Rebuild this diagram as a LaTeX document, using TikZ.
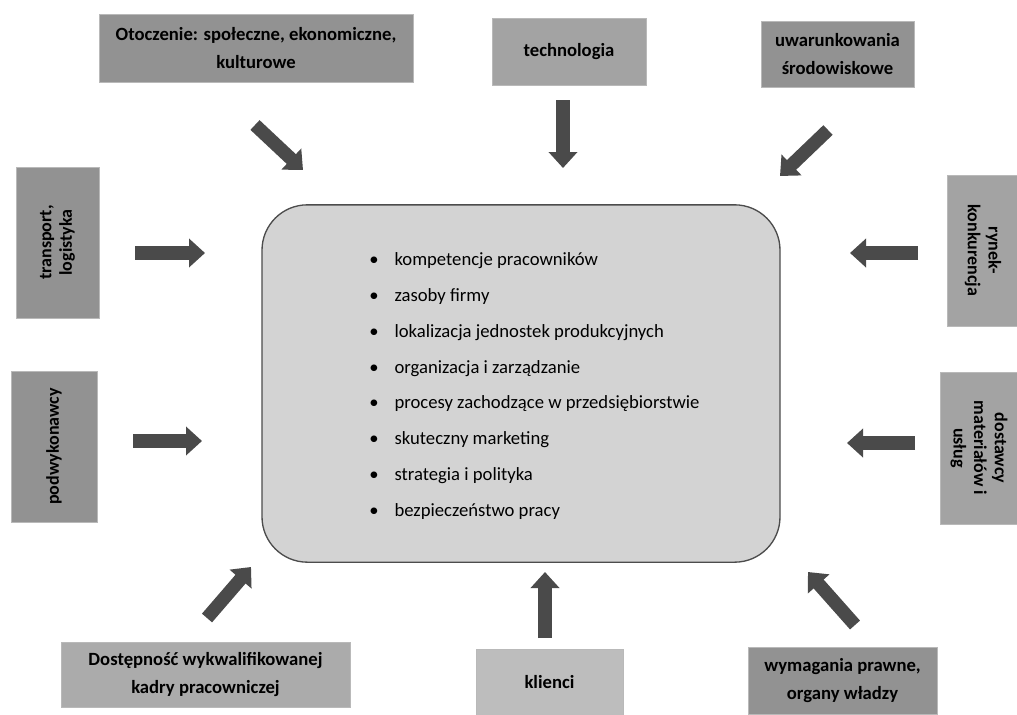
\documentclass[tikz,border=0pt]{standalone}
\usepackage{fontspec}
\setmainfont{Carlito}
\usepackage{xcolor}
\usetikzlibrary{arrows.meta,positioning}

\definecolor{boxdark}{HTML}{929292}
\definecolor{boxmid}{HTML}{A3A3A3}
\definecolor{boxlight}{HTML}{ABABAB}
\definecolor{boxpale}{HTML}{BDBDBD}
\definecolor{coregray}{HTML}{D3D3D3}
\definecolor{arrowgray}{HTML}{4A4A4A}

\begin{document}
\begin{tikzpicture}[x=0.75pt,y=-0.75pt,
  box/.style={draw=gray!55, fill=#1, inner sep=2pt, align=center,
    font=\fontsize{14}{21}\selectfont\bfseries},
  box/.default=boxmid,
  sidebox/.style={box=#1, font=\fontsize{13.5}{15.5}\selectfont\bfseries},
  flow/.style={draw=arrowgray, line width=10pt, -{Triangle[length=12pt,width=21pt]}}]
  \useasboundingbox (0,0) rectangle (1017,714);

  % centre
  \node[draw=black!70, fill=coregray, line width=1pt, rounded corners=34pt,
    minimum width=388.5pt, minimum height=268pt] (core) at (521,383.5) {};
  \node[anchor=west, align=left, inner sep=0pt,
    font=\fontsize{14}{26.8}\selectfont] (items) at (369,386) {%
    \textbullet\hspace{12pt}kompetencje pracowników\\
    \textbullet\hspace{12pt}zasoby firmy\\
    \textbullet\hspace{12pt}lokalizacja jednostek produkcyjnych\\
    \textbullet\hspace{12pt}organizacja i zarządzanie\\
    \textbullet\hspace{12pt}procesy zachodzące w przedsiębiorstwie\\
    \textbullet\hspace{12pt}skuteczny marketing\\
    \textbullet\hspace{12pt}strategia i polityka\\
    \textbullet\hspace{12pt}bezpieczeństwo pracy};

  % factors
  \node[box=boxdark, minimum width=235.5pt, minimum height=51pt] (env) at (256,48)
    {Otoczenie: społeczne, ekonomiczne,\\kulturowe};
  \node[box=boxmid, minimum width=115.5pt, minimum height=50pt] (tech) at (569,51.5)
    {technologia};
  \node[box=boxdark, minimum width=115pt, minimum height=49.5pt] (cond) at (837.5,54)
    {uwarunkowania\\środowiskowe};
  \node[sidebox=boxdark, rotate=90, minimum width=113pt, minimum height=62pt] (trans) at (57.5,242.5)
    {transport,\\logistyka};
  \node[sidebox=boxdark, rotate=90, minimum width=113pt, minimum height=64.5pt] (subc) at (54,446.5)
    {podwykonawcy};
  \node[sidebox=boxmid, rotate=-90, minimum width=113pt, minimum height=54pt] (mkt) at (983,250.5)
    {rynek-\\konkurencja};
  \node[sidebox=boxmid, rotate=-90, minimum width=114pt, minimum height=58.5pt] (supp) at (979,448)
    {dostawcy\\materiałów i\\usług};
  \node[box=boxlight, minimum width=216.75pt, minimum height=48.75pt] (staff) at (205.5,674.5)
    {Dostępność wykwalifikowanej\\kadry pracowniczej};
  \node[box=boxpale, minimum width=110pt, minimum height=49.5pt] (cli) at (549.5,682)
    {klienci};
  \node[box=boxdark, minimum width=141.75pt, minimum height=50pt] (law) at (842.5,680.5)
    {wymagania prawne,\\organy władzy};

  % arrow ends
  \coordinate (envA) at (255,125);  \coordinate (envB) at (303,170);
  \coordinate (techA) at (563,100); \coordinate (techB) at (563,168);
  \coordinate (condA) at (828,130); \coordinate (condB) at (780,176);
  \coordinate (transA) at (135,253); \coordinate (transB) at (205,253);
  \coordinate (subcA) at (133,441); \coordinate (subcB) at (202,441);
  \coordinate (mktA) at (918,253);  \coordinate (mktB) at (850,253);
  \coordinate (suppA) at (915,443); \coordinate (suppB) at (847,443);
  \coordinate (staffA) at (207,618); \coordinate (staffB) at (251,567);
  \coordinate (cliA) at (545,638);  \coordinate (cliB) at (545,572);
  \coordinate (lawA) at (855,625);  \coordinate (lawB) at (808,572);

  \draw[flow] (envA) -- (envB);
  \draw[flow] (techA) -- (techB);
  \draw[flow] (condA) -- (condB);
  \draw[flow] (transA) -- (transB);
  \draw[flow] (subcA) -- (subcB);
  \draw[flow] (mktA) -- (mktB);
  \draw[flow] (suppA) -- (suppB);
  \draw[flow] (staffA) -- (staffB);
  \draw[flow] (cliA) -- (cliB);
  \draw[flow] (lawA) -- (lawB);
\end{tikzpicture}
\end{document}
